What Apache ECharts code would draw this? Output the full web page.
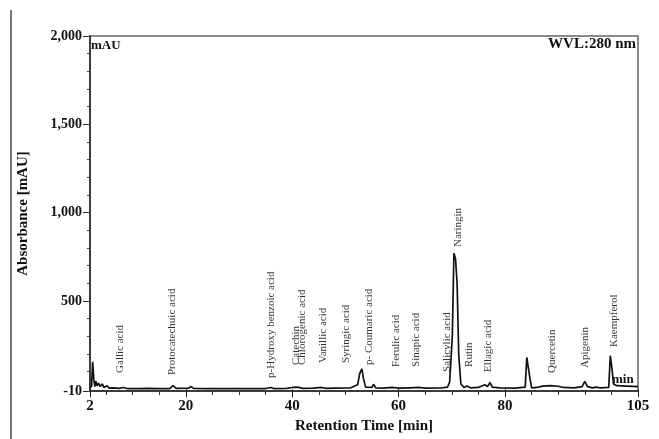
<!DOCTYPE html>
<html>
<head>
<meta charset="utf-8">
<script src="https://cdn.jsdelivr.net/npm/echarts@6/dist/echarts.min.js"></script>
<style>html,body{margin:0;padding:0;background:#fff}#c{width:659px;height:439px}</style>
</head>
<body>
<div id="c"></div>
<script>
// Chromatogram trace (retention time in min, absorbance in mAU)
const times = [2.0,2.3,2.5,2.7,2.9,3.1,3.3,3.6,3.9,4.3,4.6,5.2,5.6,6.5,7.5,8.2,9,11,13,15,17,17.6,18.2,20.5,21,21.5,24,28,32,35,36,36.5,39,40,41,42,44,45.5,46.5,48,51,52.3,52.7,53.1,53.4,53.8,55,55.3,55.7,57,59,60,62,64,65,68,69.2,69.6,70.1,70.4,70.7,71.0,71.3,71.7,72.3,72.8,73.5,75,76.2,76.7,77.2,77.6,79,82,83.8,84.1,84.4,84.7,85,86,87,88.5,90,91,93,94.5,95,95.5,96.5,97,98,99.5,99.8,100.1,100.4,101,103,105];
const absorbance = [5,20,155,60,15,45,20,35,15,30,10,20,6,8,5,10,4,3,5,4,4,20,5,6,15,5,3,4,3,4,10,4,5,10,12,5,6,10,5,6,8,25,90,115,60,12,10,28,8,6,10,6,8,10,6,7,12,40,300,770,740,600,200,30,10,18,8,10,25,15,38,12,8,6,12,180,190,60,8,10,18,20,17,10,8,15,45,15,8,12,8,10,190,120,30,20,18,15];

// Peak annotations
const peakNames = ["Gallic acid","Protocatechuic acid","p-Hydroxy benzoic acid","Catechin","Chlorogenic acid","Vanillic acid","Syringic acid","p- Coumaric acid","Ferulic acid","Sinapic acid","Salicylic acid","Naringin","Rutin","Ellagic acid","Quercetin","Apigenin","Kaempferol"];
const peakTimes = [7.7,17.5,36,40.8,41.8,45.8,50.2,54.5,59.6,63.3,69.1,71.2,73.3,76.9,88.8,95,100.5];
const peakLabelBase = [92,80,64,137,137,148,148,137,126,126,98,805,126,98,92,120,239];

// Axis ticks/labels
const xLabelValues = [2,20,40,60,80,105];
const xTickValues = [2,5,10,15,20,25,30,35,40,45,50,55,60,65,70,75,80,85,90,95,100,105];
const yLabelValues = [-10,500,1000,1500,2000];
const yMinorTicks = [-10,100,200,300,400,500,600,700,800,900,1000,1100,1200,1300,1400,1500,1600,1700,1800,1900,2000];

const serif = '"Liberation Serif","DejaVu Serif",serif';
const chart = echarts.init(document.getElementById('c'), null, {renderer:'canvas'});
const trace = times.map((t,i)=>[t,absorbance[i]]);
const labels = peakNames.map((n,i)=>({name:n, value:[peakTimes[i], peakLabelBase[i]]}));

chart.setOption({
  animation:false,
  backgroundColor:'#fff',
  grid:{left:90,right:21,top:36,bottom:48,show:true,borderColor:'#8a8a8a',borderWidth:2,containLabel:false},
  xAxis:[{
    type:'value',min:2,max:105,
    axisLine:{lineStyle:{color:'#222',width:1.5},onZero:false},
    splitLine:{show:false},
    axisTick:{show:true,customValues:xTickValues,length:4,lineStyle:{color:'#333'}},
    axisLabel:{customValues:xLabelValues,fontFamily:serif,fontWeight:'bold',fontSize:15,color:'#111',margin:8},
    name:'Retention Time [min]',nameLocation:'middle',nameGap:26,
    nameTextStyle:{fontFamily:serif,fontWeight:'bold',fontSize:15,color:'#111'}
  },{
    type:'value',min:2,max:105,position:'bottom',
    axisLine:{show:false},splitLine:{show:false},axisLabel:{show:false},
    axisTick:{show:true,customValues:xLabelValues,length:8,lineStyle:{color:'#222'}}
  }],
  yAxis:[{
    type:'value',min:-10,max:2000,
    axisLine:{show:true,lineStyle:{color:'#222',width:1.5},onZero:false},
    splitLine:{show:false},
    axisTick:{show:true,customValues:yLabelValues,length:7,lineStyle:{color:'#222'}},
    axisLabel:{customValues:yLabelValues,fontFamily:serif,fontWeight:'bold',fontSize:14,color:'#111',margin:8,
      formatter:v=>v.toLocaleString('en-US')},
    name:'Absorbance [mAU]',nameLocation:'middle',nameGap:59,
    nameTextStyle:{fontFamily:serif,fontWeight:'bold',fontSize:15,color:'#111'}
  },{
    type:'value',min:-10,max:2000,position:'left',
    axisLine:{show:false},splitLine:{show:false},axisLabel:{show:false},
    axisTick:{show:true,customValues:yMinorTicks,length:3,lineStyle:{color:'#444'}}
  }],
  series:[{
    type:'line',data:trace,showSymbol:false,symbol:'none',
    lineStyle:{color:'#111',width:1.7}
  },{
    type:'scatter',data:labels,symbolSize:0.1,silent:true,
    label:{show:true,formatter:p=>p.name,rotate:90,position:[0,0],align:'left',verticalAlign:'middle',
      fontFamily:serif,fontSize:11,color:'#000'}
  }],
  graphic:[
    {type:'line',shape:{x1:11,y1:10,x2:11,y2:439},style:{stroke:'#777',lineWidth:2}},
    {type:'text',left:91,top:39,style:{text:'mAU',font:'bold 13px '+serif,fill:'#111'}},
    {type:'text',right:23,top:37,style:{text:'WVL:280 nm',font:'bold 15px '+serif,fill:'#111'}},
    {type:'text',left:612,top:373,style:{text:'min',font:'bold 13px '+serif,fill:'#111'}}
  ]
});
</script>
</body>
</html>
